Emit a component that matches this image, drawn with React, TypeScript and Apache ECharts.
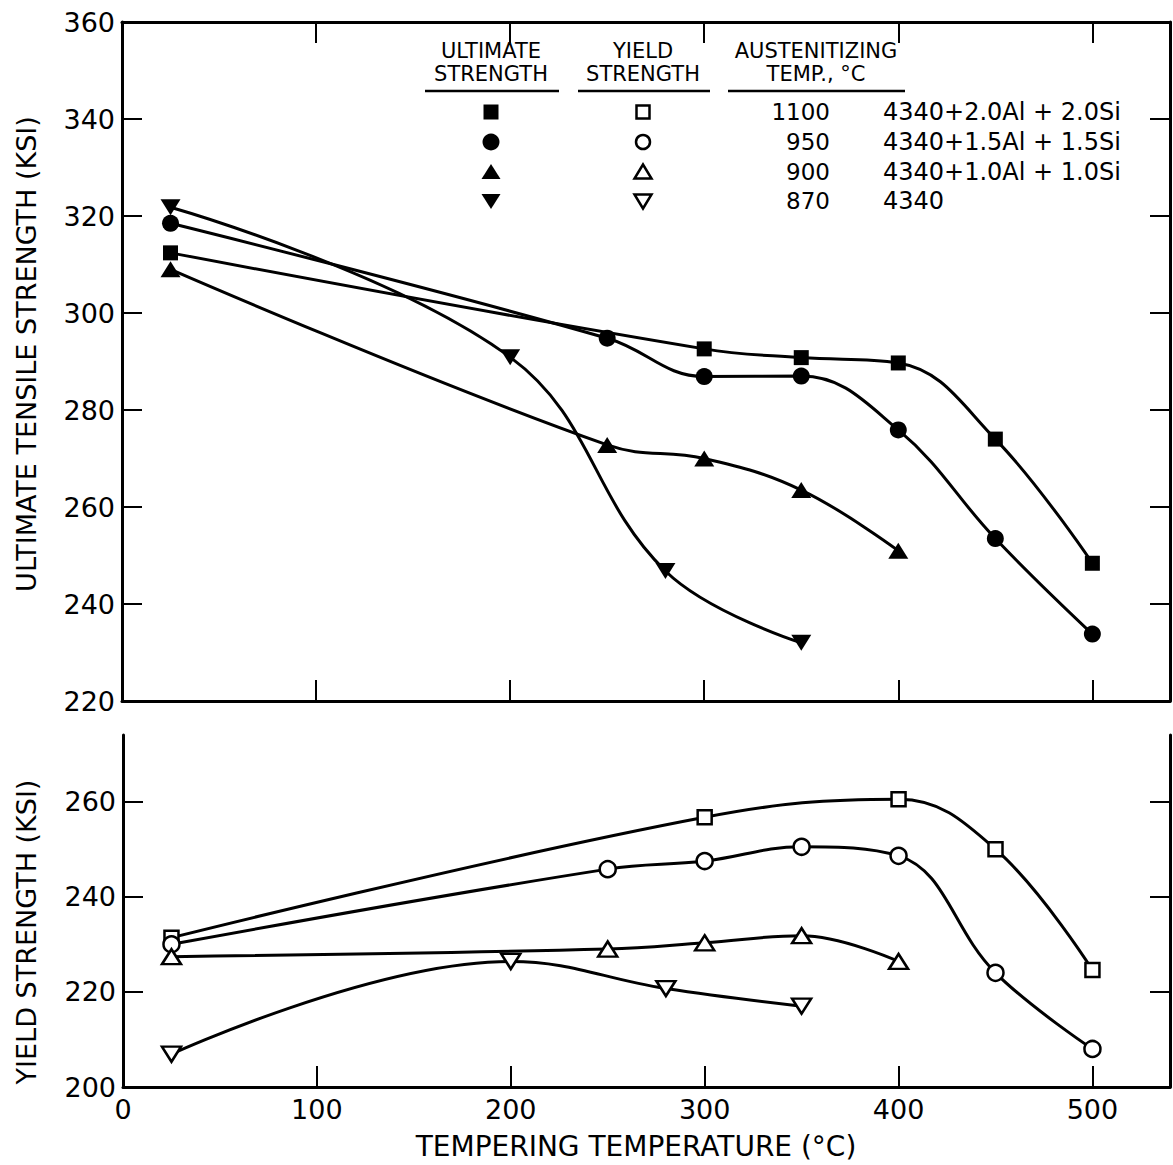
import React, { useEffect, useRef } from "react";
import * as echarts from "echarts";

// ---------- axis ticks / labels ----------
const xLabelValues = [0, 100, 200, 300, 400, 500];
const xTickValues = [100, 200, 300, 400, 500];
const utsLabelValues = [220, 240, 260, 280, 300, 320, 340, 360];
const utsTickValues = [240, 260, 280, 300, 320, 340];
const ysLabelValues = [200, 220, 240, 260];
const ysTickValues = [220, 240, 260];

// ---------- data (tempering temperature °C -> strength ksi) ----------
// 4340 + 2.0Al + 2.0Si, austenitized 1100 °C
const tSquareUts = [25, 300, 350, 400, 450, 500];
const utsSquare = [312.4, 292.6, 290.8, 289.7, 274.0, 248.4];
const tSquareYs = [25, 300, 400, 450, 500];
const ysSquare = [231.4, 256.7, 260.5, 250.0, 224.6];

// 4340 + 1.5Al + 1.5Si, austenitized 950 °C
const tCircle = [25, 250, 300, 350, 400, 450, 500];
const utsCircle = [318.5, 294.8, 286.9, 287.0, 275.9, 253.5, 233.8];
const ysCircle = [230.0, 245.8, 247.5, 250.5, 248.6, 224.0, 208.0];

// 4340 + 1.0Al + 1.0Si, austenitized 900 °C
const tTriangle = [25, 250, 300, 350, 400];
const utsTriangle = [309.0, 272.8, 270.0, 263.5, 251.0];
const ysTriangle = [227.4, 229.0, 230.3, 231.8, 226.4];

// 4340, austenitized 870 °C
const tDown = [25, 200, 280, 350];
const utsDown = [321.8, 290.9, 246.8, 232.0];
const ysDown = [206.9, 226.4, 220.7, 217.0];

// ---------- legend table ----------
const headerTop = ["ULTIMATE", "YIELD", "AUSTENITIZING"];
const headerBottom = ["STRENGTH", "STRENGTH", "TEMP., °C"];
const austTemps = ["1100", "950", "900", "870"];
const alloys = [
  "4340+2.0Al + 2.0Si",
  "4340+1.5Al + 1.5Si",
  "4340+1.0Al + 1.0Si",
  "4340",
];

const FONT = "DejaVu Sans";
const BLACK = "#000";

function pairs(xs: number[], ys: number[]) {
  return xs.map((x, i) => [x, ys[i]]);
}

function lineSeries(
  name: string,
  xs: number[],
  ys: number[],
  symbol: string,
  size: number | number[],
  rotate: number,
  filled: boolean,
  xi: number,
  yi: number
) {
  return {
    name,
    type: "line",
    xAxisIndex: xi,
    yAxisIndex: yi,
    data: pairs(xs, ys),
    smooth: 0.4,
    symbol,
    symbolSize: size,
    symbolRotate: rotate,
    showAllSymbol: true,
    lineStyle: { color: BLACK, width: 3 },
    itemStyle: filled
      ? { color: BLACK, borderWidth: 0 }
      : { color: "#fff", borderColor: BLACK, borderWidth: 2.5 },
    emphasis: { disabled: true },
    z: 3,
  };
}

function xAxisCfg(grid: number, position: string, showLabels: boolean) {
  return {
    type: "value",
    gridIndex: grid,
    position,
    min: 0,
    max: 540,
    axisLine: { show: true, onZero: false, lineStyle: { color: BLACK, width: 3 } },
    axisTick: {
      show: true,
      inside: true,
      length: 21,
      customValues: xTickValues,
      lineStyle: { color: BLACK, width: 2 },
    },
    axisLabel: {
      show: showLabels,
      customValues: xLabelValues,
      fontFamily: FONT,
      fontSize: 27,
      color: BLACK,
      margin: 9,
    },
    splitLine: { show: false },
  };
}

function yAxisCfg(
  grid: number,
  position: string,
  min: number,
  max: number,
  ticks: number[],
  labels: number[],
  showLabels: boolean
) {
  return {
    type: "value",
    gridIndex: grid,
    position,
    min,
    max,
    axisLine: { show: true, onZero: false, lineStyle: { color: BLACK, width: 3 } },
    axisTick: {
      show: true,
      inside: true,
      length: 20,
      customValues: ticks,
      lineStyle: { color: BLACK, width: 2 },
    },
    axisLabel: {
      show: showLabels,
      customValues: labels,
      fontFamily: FONT,
      fontSize: 27,
      color: BLACK,
      margin: 7,
    },
    splitLine: { show: false },
  };
}

function legendGraphics() {
  const els: any[] = [];
  const txt = (x: number, y: number, text: string, align: string, size = 23) => ({
    type: "text",
    x,
    y,
    silent: true,
    style: {
      text,
      fill: BLACK,
      font: `${size}px "${FONT}"`,
      align,
      verticalAlign: "middle",
    },
  });
  const hline = (x1: number, x2: number, y: number) => ({
    type: "line",
    silent: true,
    shape: { x1, y1: y, x2, y2: y },
    style: { stroke: BLACK, lineWidth: 2.5 },
  });
  // headers (two lines each)
  const hx = [491, 643, 816];
  headerTop.forEach((t, i) => els.push(txt(hx[i], 51, t, "center", 21)));
  headerBottom.forEach((t, i) => els.push(txt(hx[i], 74, t, "center", 21)));
  els.push(hline(425, 559, 91));
  els.push(hline(578, 710, 91));
  els.push(hline(728, 905, 91));

  const rows = [112, 142, 172, 201];
  const cf = 491;
  const co = 643;
  // filled symbols
  els.push({ type: "rect", silent: true, shape: { x: cf - 7.5, y: rows[0] - 7.5, width: 15, height: 15 }, style: { fill: BLACK } });
  els.push({ type: "circle", silent: true, shape: { cx: cf, cy: rows[1], r: 8.5 }, style: { fill: BLACK } });
  els.push({ type: "polygon", silent: true, shape: { points: [[cf - 9.5, rows[2] + 7], [cf + 9.5, rows[2] + 7], [cf, rows[2] - 8]] }, style: { fill: BLACK } });
  els.push({ type: "polygon", silent: true, shape: { points: [[cf - 9.5, rows[3] - 7], [cf + 9.5, rows[3] - 7], [cf, rows[3] + 8]] }, style: { fill: BLACK } });
  // open symbols
  const os = { fill: "#fff", stroke: BLACK, lineWidth: 2.5 };
  els.push({ type: "rect", silent: true, shape: { x: co - 6.5, y: rows[0] - 6.5, width: 13, height: 13 }, style: os });
  els.push({ type: "circle", silent: true, shape: { cx: co, cy: rows[1], r: 7 }, style: os });
  els.push({ type: "polygon", silent: true, shape: { points: [[co - 8.5, rows[2] + 6.5], [co + 8.5, rows[2] + 6.5], [co, rows[2] - 7.5]] }, style: os });
  els.push({ type: "polygon", silent: true, shape: { points: [[co - 8.5, rows[3] - 6.5], [co + 8.5, rows[3] - 6.5], [co, rows[3] + 7.5]] }, style: os });

  austTemps.forEach((t, i) => els.push(txt(830, rows[i], t, "right", 23)));
  alloys.forEach((a, i) => els.push(txt(883, rows[i], a, "left", 24)));

  // axis titles
  els.push({
    type: "text",
    x: 26,
    y: 354,
    rotation: Math.PI / 2,
    silent: true,
    style: {
      text: "ULTIMATE TENSILE STRENGTH (KSI)",
      fill: BLACK,
      font: `27px "${FONT}"`,
      align: "center",
      verticalAlign: "middle",
    },
  });
  els.push({
    type: "text",
    x: 26,
    y: 932,
    rotation: Math.PI / 2,
    silent: true,
    style: {
      text: "YIELD STRENGTH (KSI)",
      fill: BLACK,
      font: `27px "${FONT}"`,
      align: "center",
      verticalAlign: "middle",
    },
  });
  els.push(txt(636, 1146, "TEMPERING TEMPERATURE (°C)", "center", 28));
  return els;
}

export default function App() {
  const ref = useRef<HTMLDivElement>(null);

  useEffect(() => {
    document.body.style.margin = "0";
    if (!ref.current) return;
    const chart = echarts.init(ref.current, null, { renderer: "svg" });

    const option: any = {
      animation: false,
      backgroundColor: "#fff",
      grid: [
        { left: 122, top: 22, width: 1048, height: 679, outerBoundsMode: "none" },
        { left: 123, top: 735, width: 1047, height: 352, outerBoundsMode: "none" },
      ],
      xAxis: [
        xAxisCfg(0, "bottom", false),
        xAxisCfg(0, "top", false),
        xAxisCfg(1, "bottom", true),
      ],
      yAxis: [
        yAxisCfg(0, "left", 220, 360, utsTickValues, utsLabelValues, true),
        yAxisCfg(0, "right", 220, 360, utsTickValues, utsLabelValues, false),
        yAxisCfg(1, "left", 200, 274, ysTickValues, ysLabelValues, true),
        yAxisCfg(1, "right", 200, 274, ysTickValues, ysLabelValues, false),
      ],
      series: [
        lineSeries("UTS 4340+2.0Al+2.0Si", tSquareUts, utsSquare, "rect", 15, 0, true, 0, 0),
        lineSeries("UTS 4340+1.5Al+1.5Si", tCircle, utsCircle, "circle", 17, 0, true, 0, 0),
        lineSeries("UTS 4340+1.0Al+1.0Si", tTriangle, utsTriangle, "triangle", [20, 16], 0, true, 0, 0),
        lineSeries("UTS 4340", tDown, utsDown, "triangle", [20, 16], 180, true, 0, 0),
        lineSeries("YS 4340+2.0Al+2.0Si", tSquareYs, ysSquare, "rect", 14, 0, false, 2, 2),
        lineSeries("YS 4340+1.5Al+1.5Si", tCircle, ysCircle, "circle", 16, 0, false, 2, 2),
        lineSeries("YS 4340+1.0Al+1.0Si", tTriangle, ysTriangle, "triangle", [19, 15], 0, false, 2, 2),
        lineSeries("YS 4340", tDown, ysDown, "triangle", [19, 15], 180, false, 2, 2),
      ],
      graphic: legendGraphics(),
    };

    chart.setOption(option);
    return () => chart.dispose();
  }, []);

  return <div ref={ref} style={{ width: 1173, height: 1165 }} />;
}
